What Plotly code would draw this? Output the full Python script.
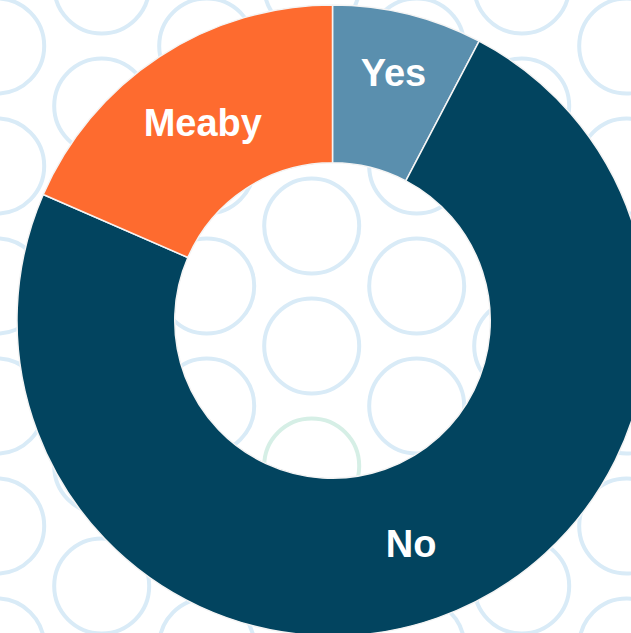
import plotly.graph_objects as go

# ---- data ----
labels = ["Yes", "No", "Meaby"]
values = [10, 96, 24]
colors = ["#5a8fae", "#02445f", "#fe6b2f"]

# ---- canvas (slightly larger than the window so the donut can sit off-centre) ----
W, H = 665, 641
pie_cx, pie_cy, pie_r = 332.5, 320.5, 315.5

# ---- decorative background: hex grid of outlined circles ----
col_x0, col_dx = -3.3, 105.0
row_y_even, row_y_odd, row_dy = 46.0, -14.0, 120.0
circle_r = 47.5
ring_blue = "#d9ebf7"
ring_green = "#d6efe6"
green_center = (311.7, 466.0)

shapes = []
for ci in range(8):
    cx = col_x0 + ci * col_dx
    y_start = row_y_even if ci % 2 == 0 else row_y_odd
    for ri in range(-1, 7):
        cy = y_start + ri * row_dy
        if cy < -60 or cy > H + 60:
            continue
        is_green = abs(cx - green_center[0]) < 1 and abs(cy - green_center[1]) < 1
        shapes.append(dict(
            type="circle", xref="x", yref="y", layer="below",
            x0=cx - circle_r, x1=cx + circle_r, y0=cy - circle_r, y1=cy + circle_r,
            line=dict(color=ring_green if is_green else ring_blue, width=4),
            fillcolor="rgba(0,0,0,0)",
        ))

fig = go.Figure(go.Pie(
    labels=labels,
    values=values,
    hole=0.5,
    sort=False,
    direction="clockwise",
    rotation=0,
    domain=dict(
        x=[(pie_cx - pie_r) / W, (pie_cx + pie_r) / W],
        y=[1 - (pie_cy + pie_r) / H, 1 - (pie_cy - pie_r) / H],
    ),
    marker=dict(colors=colors, line=dict(color="#f4f4f4", width=1.5)),
    textinfo="label",
    textposition="inside",
    insidetextorientation="horizontal",
    textfont=dict(family="Liberation Sans, Arial, sans-serif", size=38, color="white", weight="bold"),
    showlegend=False,
    hoverinfo="label+value+percent",
))

fig.update_layout(
    width=W, height=H,
    margin=dict(l=0, r=0, t=0, b=0),
    paper_bgcolor="white", plot_bgcolor="rgba(0,0,0,0)",
    xaxis=dict(range=[0, W], visible=False, fixedrange=True, domain=[0, 1]),
    yaxis=dict(range=[H, 0], visible=False, fixedrange=True, domain=[0, 1]),
    shapes=shapes,
    uniformtext=dict(minsize=38, mode="show"),
)

fig.write_html("out.html")
